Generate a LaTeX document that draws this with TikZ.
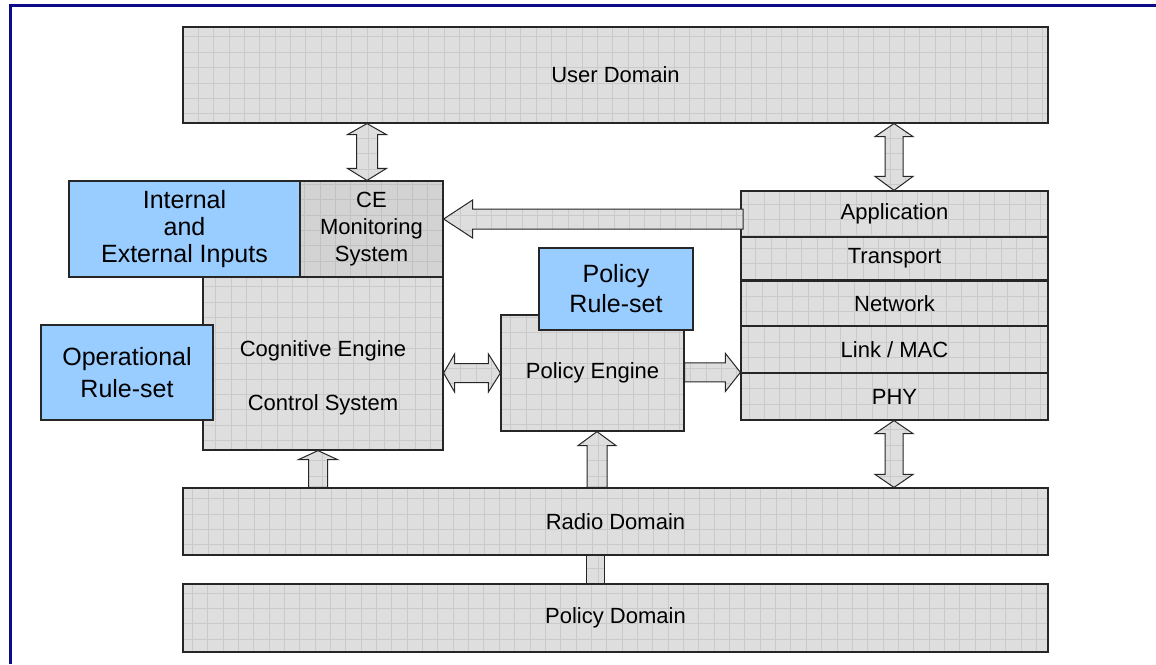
\documentclass[tikz,border=0pt]{standalone}
\usepackage{fontspec}
\setmainfont{Liberation Sans}
\usetikzlibrary{calc}

\definecolor{navyline}{HTML}{0A0A8A}
\definecolor{panel}{HTML}{DEDEDE}
\definecolor{panelgrid}{HTML}{CACACA}
\definecolor{monitor}{HTML}{D3D3D3}
\definecolor{monitorgrid}{HTML}{C2C2C2}
\definecolor{skyblue}{HTML}{99CCFF}
\definecolor{edge}{HTML}{262626}

\tikzset{
  % light grey fill with a fine square grid over the whole shape
  gridded/.style 2 args={fill=#1, path picture={
      \draw[#2, line width=0.7pt, step=15.35pt]
            (path picture bounding box.south west)
            grid (path picture bounding box.north east);}},
  corners/.style n args={4}{minimum width=#3-#1, minimum height=#4-#2,
      at={({(#1+#3)/2},{(#2+#4)/2})}},
  basebox/.style={draw=edge, line width=1.2pt, inner sep=0pt, align=center},
  panelbox/.style={basebox, gridded={panel}{panelgrid},
      font=\fontsize{22}{26.4}\selectfont},
  monitorbox/.style={basebox, gridded={monitor}{monitorgrid},
      font=\fontsize{22}{26.7}\selectfont},
  rulebox/.style={basebox, fill=skyblue, font=\fontsize{25}{30}\selectfont},
  caption/.style={inner sep=0pt, align=center, font=\fontsize{22}{26.4}\selectfont},
  blockarrow/.style={draw=edge, line width=1pt, gridded={panel}{panelgrid}},
}

% vertical double-headed block arrow: top tip, bottom tip, head half width,
% shaft half width, top head length, bottom head length
\newcommand\vdoublearrow[6]{%
  \path[blockarrow] let \p1=#1, \p2=#2 in
    (\x1,\y1) -- (\x1+#3,\y1-#5) -- (\x1+#4,\y1-#5) -- (\x1+#4,\y2+#6)
    -- (\x1+#3,\y2+#6) -- (\x1,\y2) -- (\x1-#3,\y2+#6) -- (\x1-#4,\y2+#6)
    -- (\x1-#4,\y1-#5) -- (\x1-#3,\y1-#5) -- cycle;}
% upward block arrow: tip, tail, head half width, shaft half width, head length
\newcommand\uparrowblock[5]{%
  \path[blockarrow] let \p1=#1, \p2=#2 in
    (\x1,\y1) -- (\x1+#3,\y1-#5) -- (\x1+#4,\y1-#5) -- (\x1+#4,\y2)
    -- (\x1-#4,\y2) -- (\x1-#4,\y1-#5) -- (\x1-#3,\y1-#5) -- cycle;}
% horizontal double-headed block arrow: left tip, right tip, head half width,
% shaft half width, left head length, right head length
\newcommand\hdoublearrow[6]{%
  \path[blockarrow] let \p1=#1, \p2=#2 in
    (\x1,\y1) -- (\x1+#5,\y1+#3) -- (\x1+#5,\y1+#4) -- (\x2-#6,\y1+#4)
    -- (\x2-#6,\y1+#3) -- (\x2,\y1) -- (\x2-#6,\y1-#3) -- (\x2-#6,\y1-#4)
    -- (\x1+#5,\y1-#4) -- (\x1+#5,\y1-#3) -- cycle;}
% rightward block arrow: tail, tip, head half width, shaft half width, head length
\newcommand\rightarrowblock[5]{%
  \path[blockarrow] let \p1=#1, \p2=#2 in
    (\x1,\y2+#4) -- (\x2-#5,\y2+#4) -- (\x2-#5,\y2+#3) -- (\x2,\y2)
    -- (\x2-#5,\y2-#3) -- (\x2-#5,\y2-#4) -- (\x1,\y2-#4) -- cycle;}
% leftward block arrow: tip, tail, head half width, shaft half width, head length
\newcommand\leftarrowblock[5]{%
  \path[blockarrow] let \p1=#1, \p2=#2 in
    (\x1,\y1) -- (\x1+#5,\y1+#3) -- (\x1+#5,\y1+#4) -- (\x2,\y1+#4)
    -- (\x2,\y1-#4) -- (\x1+#5,\y1-#4) -- (\x1+#5,\y1-#3) -- cycle;}

\begin{document}
\begin{tikzpicture}[x=1pt, y=-1pt]
  \useasboundingbox (0,0) rectangle (1156,664);
  \fill[white] (0,0) rectangle (1156,664);

  % frame
  \draw[navyline, line width=3pt] (10,664) -- (10,5) -- (1156,5);

  % domains
  \node[panelbox, corners={183}{27}{1048}{123}] (user) {User Domain};
  \node[panelbox, corners={183}{488}{1048}{555}] (radio) {Radio Domain};
  \node[panelbox, corners={183}{584}{1048}{652}] (policyd) {Policy Domain};

  % cognitive engine
  \node[panelbox, corners={203}{277}{443}{450}] (ce) {};
  \node[caption] (cetext) at (323,378) {Cognitive Engine\\[28pt]Control System};
  \node[monitorbox, corners={300}{181}{443}{277}] (cms) {CE\\Monitoring\\System};
  \node[rulebox, corners={69}{181}{300}{277}, font=\fontsize{25}{26.7}\selectfont]
    (inputs) {Internal\\and\\External Inputs};
  \node[rulebox, corners={41}{325}{213}{420}, font=\fontsize{25}{31.5}\selectfont]
    (oprules) {Operational\\Rule-set};

  % policy engine
  \node[panelbox, corners={501}{315}{684}{431}] (pe) {Policy Engine};
  \node[rulebox, corners={539}{248}{693}{330}] (prules) {Policy\\Rule-set};

  % protocol stack
  \node[panelbox, corners={741}{191}{1048}{237}] (app) {Application};
  \node[panelbox, corners={741}{237}{1048}{280}] (trans) {Transport};
  \node[panelbox, corners={741}{281}{1048}{326}] (net) {Network};
  \node[panelbox, corners={741}{326}{1048}{373}] (link) {Link / MAC};
  \node[panelbox, corners={741}{373}{1048}{420}] (phy) {PHY};

  % connectors
  \vdoublearrow{(367,0 |- user.south)}{(367,0 |- cms.north)}{19.5pt}{10.5pt}{11pt}{12pt}
  \vdoublearrow{(894,0 |- user.south)}{(894,0 |- app.north)}{19pt}{9pt}{13pt}{14pt}
  \vdoublearrow{(894,0 |- phy.south)}{(894,0 |- radio.north)}{19pt}{9pt}{13pt}{13pt}
  \leftarrowblock{(cms.east |- 0,219)}{(743,0 |- 0,219)}{19pt}{10pt}{29pt}
  \hdoublearrow{(ce.east |- 0,373)}{(pe.west |- 0,373)}{19pt}{9.5pt}{11pt}{12pt}
  \rightarrowblock{(pe.east)}{(phy.north west)}{19pt}{9.5pt}{15pt}
  \uparrowblock{(318,0 |- ce.south)}{(318,0 |- radio.north)}{19.5pt}{9.5pt}{9pt}
  \uparrowblock{(597,0 |- pe.south)}{(597,0 |- radio.north)}{19pt}{10pt}{14pt}
  \path[blockarrow] let \p1=(595,0 |- radio.south), \p2=(595,0 |- policyd.north) in
    (\x1-9pt,\y1) rectangle (\x2+9pt,\y2);
\end{tikzpicture}
\end{document}
